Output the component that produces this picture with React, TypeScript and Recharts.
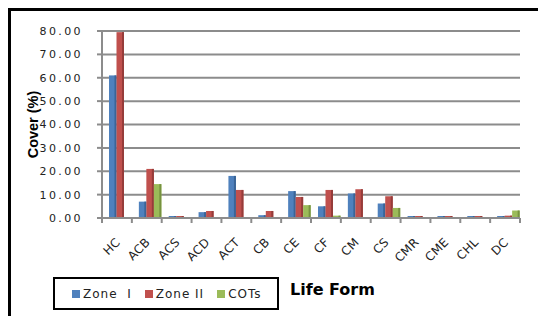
import React from 'react';
import { BarChart, Bar, XAxis, YAxis, CartesianGrid, Legend } from 'recharts';

const categories = ['HC', 'ACB', 'ACS', 'ACD', 'ACT', 'CB', 'CE', 'CF', 'CM', 'CS', 'CMR', 'CME', 'CHL', 'DC'];
const zone1 = [61, 7, 0.3, 2.5, 18, 1.2, 11.5, 5, 10.5, 6.2, 0.3, 0.3, 0.3, 0.3];
const zone2 = [79.5, 21, 0.5, 3, 12, 3, 9, 12, 12.3, 9.3, 0.3, 0.3, 0.3, 1];
const cots = [0, 14.5, 0, 0, 0, 0, 5.5, 1, 0, 4.3, 0, 0, 0, 3.2];
const yTicks = [0, 10, 20, 30, 40, 50, 60, 70, 80];

const series = [
  { key: 'zone1', name: 'Zone  I', color: '#4F81BD', side: '#3A6597' },
  { key: 'zone2', name: 'Zone II', color: '#C0504D', side: '#963C3A' },
  { key: 'cots', name: 'COTs', color: '#9BBB59', side: '#76923F' },
];

const data = categories.map((c, i) => ({
  cat: c,
  zone1: zone1[i],
  zone2: zone2[i],
  cots: cots[i],
}));

const FONT = '"DejaVu Sans", Verdana, sans-serif';
const PLOT_W = 418;
const BAND = PLOT_W / categories.length;

// flat bar with a darker right edge, nudged right like the 3D original
const Bar3D = (color: string, side: string) => (props: any) => {
  const { x, y, width, height, value } = props;
  const v = Array.isArray(value) ? value[1] - value[0] : value;
  if (!v || v <= 0) return null;
  const h = Math.max(height, 2);
  const top = y + height - h;
  return (
    <g>
      <rect x={x + 3} y={top} width={width} height={h} fill={color} />
      <rect x={x + 3 + width - 2} y={top} width={2} height={h} fill={side} />
    </g>
  );
};

const XTick = (props: any) => {
  const { x, y, payload, index } = props;
  const left = x - BAND / 2;
  const ax = x + 4;
  const ay = y + 17;
  return (
    <g>
      <line x1={left} y1={y - 8} x2={left} y2={y - 3} stroke="#8c8c8c" strokeWidth={2} />
      {index === categories.length - 1 && (
        <line x1={left + BAND} y1={y - 8} x2={left + BAND} y2={y - 3} stroke="#8c8c8c" strokeWidth={2} />
      )}
      <text
        x={ax}
        y={ay}
        textAnchor="end"
        transform={`rotate(-45, ${ax}, ${ay})`}
        fontFamily={FONT}
        fontSize={12}
        letterSpacing={0.3}
        fill="#222"
      >
        {payload.value}
      </text>
    </g>
  );
};

const LegendBox = () => (
  <div style={{ position: 'relative', height: 33 }}>
    <div
      style={{
        width: 205,
        height: 29,
        border: '2px solid #000',
        display: 'flex',
        alignItems: 'center',
        paddingLeft: 17,
        fontFamily: FONT,
        fontSize: 12,
        letterSpacing: 1,
        color: '#222',
      }}
    >
      {series.map((s) => (
        <span key={s.key} style={{ display: 'flex', alignItems: 'center', marginRight: 13 }}>
          <span style={{ width: 8, height: 8, background: s.color, marginRight: 3 }} />
          <span style={{ whiteSpace: 'pre' }}>{s.name}</span>
        </span>
      ))}
    </div>
    <div
      style={{
        position: 'absolute',
        left: 237,
        top: 3,
        fontFamily: FONT,
        fontWeight: 'bold',
        fontSize: 16,
        color: '#000',
        whiteSpace: 'nowrap',
      }}
    >
      Life Form
    </div>
  </div>
);

export default function App() {
  return (
    <div
      style={{
        width: 535,
        height: 305,
        borderTop: '3px solid #000',
        borderLeft: '3px solid #000',
        background: '#fff',
      }}
    >
      <BarChart
        width={535}
        height={305}
        data={data}
        barSize={7.5}
        barGap={0}
        margin={{ top: 20, right: 535 - 91 - PLOT_W, left: 0, bottom: 6 }}
      >
        <CartesianGrid vertical={false} stroke="#8c8c8c" strokeWidth={2} />
        <XAxis
          dataKey="cat"
          height={59}
          interval={0}
          stroke="#8c8c8c"
          strokeWidth={2}
          tickLine={false}
          tick={<XTick />}
        />
        <YAxis
          width={91}
          domain={[0, 80]}
          ticks={yTicks}
          stroke="#8c8c8c"
          strokeWidth={2}
          tickSize={5}
          tickMargin={14}
          tickFormatter={(v: number) => v.toFixed(2)}
          tick={{ fontFamily: FONT, fontSize: 11, fill: '#222', letterSpacing: 2.4 }}
          label={{
            value: 'Cover (%)',
            angle: -90,
            position: 'insideLeft',
            offset: 22,
            style: {
              fontFamily: '"Liberation Sans", Arial, sans-serif',
              fontWeight: 'bold',
              fontSize: 14.5,
              fill: '#000',
              textAnchor: 'middle',
            },
          }}
        />
        <Legend
          verticalAlign="bottom"
          content={<LegendBox />}
          wrapperStyle={{ left: 42, width: 340, height: 33 }}
        />
        {series.map((s) => (
          <Bar
            key={s.key}
            dataKey={s.key}
            name={s.name}
            fill={s.color}
            isAnimationActive={false}
            shape={Bar3D(s.color, s.side)}
          />
        ))}
      </BarChart>
    </div>
  );
}
